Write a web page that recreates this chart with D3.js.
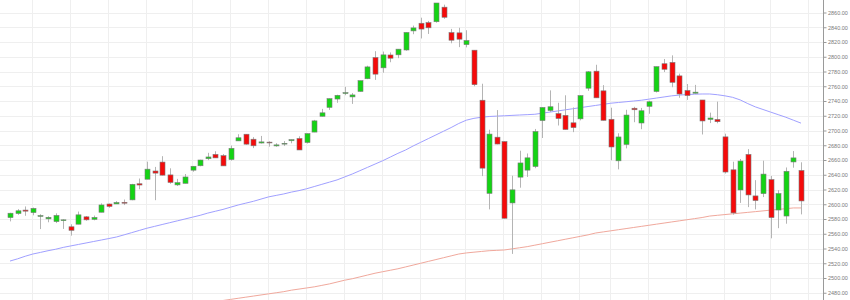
<!DOCTYPE html>
<html>
<head>
<meta charset="utf-8">
<script src="https://cdn.jsdelivr.net/npm/d3@7"></script>
<style>
  body { margin: 0; background: #fff; }
  svg { display: block; }
</style>
</head>
<body>
<svg id="chart"></svg>
<script>
var width = 850;
var height = 300;

// S&P 500 daily candles, 3 Nov 2017 - 6 Apr 2018
var dates = [
  '2017-11-03','2017-11-06','2017-11-07','2017-11-08','2017-11-09','2017-11-10','2017-11-13','2017-11-14','2017-11-15','2017-11-16',
  '2017-11-17','2017-11-20','2017-11-21','2017-11-22','2017-11-24','2017-11-27','2017-11-28','2017-11-29','2017-11-30',
  '2017-12-01','2017-12-04','2017-12-05','2017-12-06','2017-12-07','2017-12-08','2017-12-11','2017-12-12','2017-12-13','2017-12-14',
  '2017-12-15','2017-12-18','2017-12-19','2017-12-20','2017-12-21','2017-12-22','2017-12-26','2017-12-27','2017-12-28','2017-12-29',
  '2018-01-02','2018-01-03','2018-01-04','2018-01-05','2018-01-08','2018-01-09','2018-01-10','2018-01-11','2018-01-12','2018-01-16',
  '2018-01-17','2018-01-18','2018-01-19','2018-01-22','2018-01-23','2018-01-24','2018-01-25','2018-01-26','2018-01-29','2018-01-30','2018-01-31',
  '2018-02-01','2018-02-02','2018-02-05','2018-02-06','2018-02-07','2018-02-08','2018-02-09','2018-02-12','2018-02-13','2018-02-14',
  '2018-02-15','2018-02-16','2018-02-20','2018-02-21','2018-02-22','2018-02-23','2018-02-26','2018-02-27','2018-02-28',
  '2018-03-01','2018-03-02','2018-03-05','2018-03-06','2018-03-07','2018-03-08','2018-03-09','2018-03-12','2018-03-13','2018-03-14',
  '2018-03-15','2018-03-16','2018-03-19','2018-03-20','2018-03-21','2018-03-22','2018-03-23','2018-03-26','2018-03-27','2018-03-28','2018-03-29',
  '2018-04-02','2018-04-03','2018-04-04','2018-04-05','2018-04-06'
];

var opens = [
  2581.93,2587.47,2592.11,2588.71,2584.00,2580.18,2576.53,2577.75,2569.45,2572.95,
  2582.94,2579.49,2589.17,2600.31,2600.42,2602.66,2605.94,2627.82,2633.93,
  2645.10,2657.19,2639.78,2626.24,2628.38,2646.21,2652.19,2661.73,2667.59,2665.87,
  2660.63,2685.92,2694.96,2688.18,2683.02,2684.22,2679.09,2682.10,2686.10,2689.15,
  2683.73,2697.85,2719.31,2731.33,2742.67,2751.15,2745.55,2752.97,2770.18,2798.96,
  2784.99,2802.40,2802.60,2809.16,2835.05,2845.42,2846.24,2847.48,2867.23,2832.74,2832.41,
  2816.45,2808.92,2741.06,2614.78,2690.95,2685.01,2601.78,2636.75,2646.27,2651.21,
  2713.46,2727.14,2722.99,2720.53,2710.42,2715.80,2757.37,2780.45,2753.78,
  2715.22,2658.89,2681.06,2730.18,2710.18,2732.75,2752.91,2790.54,2792.31,2774.06,
  2754.27,2750.57,2741.38,2715.05,2714.99,2691.36,2646.71,2619.35,2667.57,2611.30,2614.41,
  2633.45,2592.17,2584.04,2657.36,2645.82
];

var highs = [
  2588.42,2593.38,2597.02,2595.47,2586.50,2583.81,2587.66,2579.66,2572.84,2590.09,
  2583.96,2584.64,2601.19,2600.94,2604.21,2606.41,2627.69,2634.89,2657.74,
  2650.62,2665.19,2648.72,2634.41,2640.99,2651.65,2660.33,2669.72,2671.88,2668.09,
  2679.63,2694.97,2695.25,2691.01,2692.64,2685.35,2682.74,2685.64,2687.66,2692.12,
  2695.89,2714.37,2729.29,2743.45,2748.51,2759.14,2750.80,2767.56,2787.85,2807.54,
  2807.04,2805.83,2810.33,2833.03,2842.24,2852.97,2848.56,2872.87,2870.62,2837.75,2839.26,
  2835.96,2808.92,2763.39,2701.04,2727.67,2685.27,2638.67,2672.61,2668.84,2702.10,
  2731.51,2754.42,2737.60,2747.75,2731.26,2747.76,2780.64,2789.15,2761.52,
  2730.89,2696.25,2728.09,2732.08,2730.60,2740.45,2786.57,2796.98,2801.90,2777.11,
  2763.03,2761.85,2741.38,2724.22,2739.14,2695.68,2657.67,2661.36,2674.78,2632.65,2659.07,
  2638.30,2619.14,2649.86,2672.08,2656.88
];

var lows = [
  2576.77,2585.66,2584.35,2585.02,2566.33,2575.57,2574.48,2566.56,2557.45,2572.95,
  2577.62,2578.24,2589.17,2595.23,2600.42,2598.87,2605.44,2620.32,2633.93,
  2605.52,2639.03,2627.73,2624.75,2628.38,2644.10,2651.47,2659.78,2662.85,2652.01,
  2659.14,2685.92,2680.74,2676.11,2682.40,2678.13,2677.96,2678.91,2682.69,2673.61,
  2682.36,2697.77,2719.07,2727.92,2737.60,2747.86,2736.06,2752.78,2769.64,2768.64,
  2778.38,2792.56,2798.08,2808.12,2830.59,2824.81,2830.94,2846.18,2851.48,2818.27,2813.04,
  2812.70,2759.97,2638.17,2593.07,2681.33,2580.56,2532.69,2622.45,2637.08,2648.87,
  2689.82,2725.11,2706.76,2701.29,2697.77,2713.74,2753.78,2744.22,2713.54,
  2659.65,2647.32,2675.75,2711.26,2701.74,2722.65,2751.54,2779.26,2758.68,2744.38,
  2741.47,2749.97,2694.59,2710.05,2709.79,2641.59,2585.89,2601.81,2596.12,2593.06,2609.72,
  2553.80,2567.56,2573.61,2649.58,2586.27
];

var closes = [
  2587.84,2591.13,2590.64,2594.38,2584.62,2582.30,2584.84,2578.87,2564.62,2585.64,
  2578.85,2582.14,2599.03,2597.08,2602.42,2601.42,2627.04,2626.07,2647.58,
  2642.22,2639.44,2629.57,2629.27,2636.98,2651.50,2659.99,2664.11,2662.85,2652.01,
  2675.81,2690.16,2681.47,2679.25,2684.57,2683.34,2680.50,2682.62,2687.54,2673.61,
  2695.81,2713.06,2723.99,2743.15,2747.71,2751.29,2748.23,2767.56,2786.24,2776.42,
  2802.56,2798.03,2810.30,2832.97,2839.13,2837.54,2839.25,2872.87,2853.53,2822.43,2823.81,
  2821.98,2762.13,2648.94,2695.14,2681.66,2581.00,2619.55,2656.00,2662.94,2698.63,
  2731.20,2732.22,2716.26,2701.33,2703.96,2747.30,2779.60,2744.28,2713.83,
  2677.67,2691.25,2720.94,2728.12,2726.80,2738.97,2786.57,2783.02,2765.31,2749.48,
  2747.33,2752.01,2712.92,2716.94,2711.93,2643.69,2588.26,2658.55,2612.62,2605.00,2640.87,
  2581.88,2614.45,2644.69,2662.84,2604.47
];

// 50-day moving average, one per candle
var ma50 = [
  2523,2526,2529.5,2532.5,2534.7,2537,2539,2541.5,2543.5,2545.5,
  2547.5,2549.5,2551.5,2553.5,2555.6,2558.5,2561.5,2564.5,2567.5,
  2570,2572.5,2575,2577.5,2580,2582.5,2585,2588,2590.5,2593,
  2596,2599,2601.5,2604,2607,2610,2612,2614,2616.5,2618.5,
  2621,2624,2627,2630,2633,2637,2641,2645.5,2650,2654.5,
  2659,2664,2669,2673.5,2679,2684,2689,2694,2699,2704,2709.5,
  2714,2716.5,2718,2719,2719.5,2720,2720.5,2721,2721.5,2722,
  2723.5,2725,2726.5,2728,2729.5,2731,2732.5,2734,2735.5,
  2737,2738,2739,2740,2741,2742.5,2744,2745.5,2747,2748,
  2748.7,2749.2,2749.5,2749.5,2748.5,2747,2745,2741.5,2736.5,2732,2728.5,
  2725,2721.5,2718,2714,2710
];

// 200-day moving average (below the visible range before mid-Dec)
var ma200 = [
  null,null,null,null,null,null,null,null,null,null,
  null,null,null,null,null,null,null,null,null,
  null,null,null,null,null,null,2464,2466,2468,2469.5,
  2471,2472.5,2474,2475.5,2477,2478.5,2480,2481.5,2483.5,2485,
  2486.5,2488,2490,2492,2494.5,2497,2499,2501.5,2504,2506.5,
  2508.5,2510.5,2512.5,2515,2517.5,2520,2522.5,2525,2527.5,2530,2532.5,
  2534,2535,2536,2537,2537.5,2538,2539.5,2541,2542.5,2544.5,
  2546.5,2548.5,2550.5,2552.5,2554.5,2556.5,2558.5,2561,2562.5,
  2564,2565.5,2567,2568.5,2570,2571.5,2573,2574.5,2576,2577.5,
  2579,2580.5,2582,2584,2585,2586,2587,2588,2589,2590,2591,
  2592,2593,2594,2595,2595
];

var yTicks = [2480,2500,2520,2540,2560,2580,2600,2620,2640,2660,2680,2700,2720,2740,2760,2780,2800,2820,2840,2860];
var gridIdx = [3,8,13,18,24,29,34,39,44,49,54,60,65,70,75,79,84,89,94,100,105];

var plotRight = 823;

var svg = d3.select('#chart')
  .attr('width', width)
  .attr('height', height);

var x = d3.scaleLinear().domain([0, dates.length - 1]).range([10, 801]);
var y = d3.scaleLinear().domain([2460, 2880]).range([307.5, -2.25]);

svg.append('defs').append('clipPath').attr('id', 'plot-clip')
  .append('rect').attr('x', 0).attr('y', 0).attr('width', plotRight).attr('height', height);

var plot = svg.append('g').attr('clip-path', 'url(#plot-clip)');

// grid
plot.append('g').selectAll('line.h')
  .data(yTicks)
  .enter().append('line')
  .attr('x1', 0).attr('x2', plotRight)
  .attr('y1', d => Math.round(y(d)) + 0.5)
  .attr('y2', d => Math.round(y(d)) + 0.5)
  .attr('stroke', '#efefef');

plot.append('g').selectAll('line.v')
  .data(gridIdx)
  .enter().append('line')
  .attr('y1', 0).attr('y2', height)
  .attr('x1', d => Math.round(x(d)) - 0.5)
  .attr('x2', d => Math.round(x(d)) - 0.5)
  .attr('stroke', '#efefef');

// moving averages
var maLine = d3.line()
  .defined(d => d != null)
  .x((d, i) => x(i))
  .y(d => y(d));

plot.append('path').datum(ma200)
  .attr('d', maLine)
  .attr('fill', 'none')
  .attr('stroke', '#f0a89c')
  .attr('stroke-width', 1);

plot.append('path').datum(ma50)
  .attr('d', maLine)
  .attr('fill', 'none')
  .attr('stroke', '#a0a0ff')
  .attr('stroke-width', 1);

// candles
var candles = plot.append('g').selectAll('g')
  .data(dates.map((d, i) => i))
  .enter().append('g');

candles.append('line')
  .attr('x1', i => Math.round(x(i)) + 0.5)
  .attr('x2', i => Math.round(x(i)) + 0.5)
  .attr('y1', i => y(highs[i]))
  .attr('y2', i => y(lows[i]))
  .attr('stroke', '#b4b4b4');

candles.append('rect')
  .attr('x', i => Math.round(x(i)) - 2)
  .attr('y', i => y(Math.max(opens[i], closes[i])))
  .attr('width', 5)
  .attr('height', i => Math.max(0.8, Math.abs(y(opens[i]) - y(closes[i]))))
  .attr('fill', i => closes[i] >= opens[i] ? '#14d414' : '#f50a0a')
  .attr('stroke', '#7a7a7a')
  .attr('stroke-width', 0.6);

// right axis
var axis = d3.axisRight(y)
  .tickValues(yTicks)
  .tickFormat(d3.format('.2f'))
  .tickSize(3)
  .tickPadding(1.5);

var ax = svg.append('g')
  .attr('transform', 'translate(' + (plotRight + 0.5) + ',0)')
  .call(axis);

ax.select('.domain').attr('stroke', '#9a9a9a').attr('d', 'M0,0V' + height);
ax.selectAll('.tick line').attr('stroke', '#9a9a9a');
ax.selectAll('.tick text')
  .attr('fill', '#7a7a7a')
  .style('font-family', 'Arial, "Liberation Sans", sans-serif')
  .style('font-size', '5.5px');
</script>
</body>
</html>
